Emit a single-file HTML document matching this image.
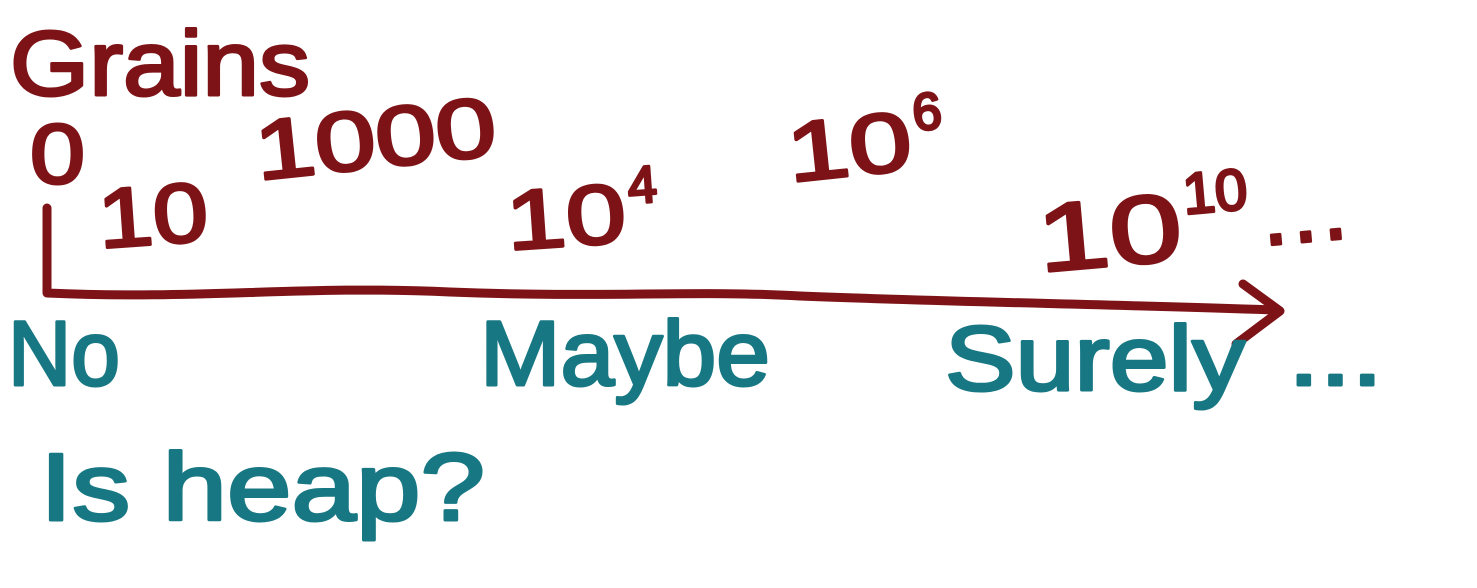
<!DOCTYPE html>
<html>
<head>
<meta charset="utf-8">
<style>
  html,body{margin:0;padding:0;background:#fff;}
  svg{display:block;}
  .red{fill:#7d1317;stroke:#7d1317;stroke-width:3;stroke-linejoin:round;font-family:"Liberation Sans",sans-serif;}
  .teal{fill:#177783;stroke:#177783;stroke-width:3;stroke-linejoin:round;font-family:"Liberation Sans",sans-serif;}
</style>
</head>
<body>
<svg width="1477" height="588" viewBox="0 0 1477 588">
  <text class="red" x="10" y="95" font-size="92" textLength="300" lengthAdjust="spacingAndGlyphs">Grains</text>

  <g id="ticks"></g>

  <path d="M47 208 L47 293 C200 300 300 285 450 292 C600 298 700 290 800 296 C950 302 1100 304 1275 310"
        fill="none" stroke="#7d1317" stroke-width="9" stroke-linecap="round" stroke-linejoin="round"
       />
  <path d="M1243 284 L1280 311 L1236 344" fill="none" stroke="#7d1317" stroke-width="9"
        stroke-linecap="round" stroke-linejoin="round"/>

  <g id="answers"></g>

  <text class="teal" x="40" y="520" font-size="96" textLength="445" lengthAdjust="spacingAndGlyphs">Is heap?</text>
</svg>
<script>
const tickLabels = ["0", "10", "1000", "10", "10", "10"];
const tickExps = ["", "", "", "4", "6", "10"];
const tickX = [30, 100, 258, 508, 790, 1040];
const tickY = [183, 248, 180, 250, 182, 272];
const tickRot = [0, -4, -6, -4, -6, -5];
const tickLen = [55, 110, 242, 120, 125, 145];
const answerLabels = ["No", "Maybe", "Surely", "..."];
const answerX = [8, 480, 945, 1288];
const answerY = [385, 385, 390, 385];
const answerLen = [112, 290, 300, 95];

const NS = "http://www.w3.org/2000/svg";
const tg = document.getElementById('ticks');
tickLabels.forEach((t, i) => {
  const el = document.createElementNS(NS, 'text');
  el.setAttribute('class', 'red');
  el.setAttribute('x', tickX[i]);
  el.setAttribute('y', tickY[i]);
  el.setAttribute('font-size', i === 5 ? 96 : 84);
  el.setAttribute('transform', `rotate(${tickRot[i]} ${tickX[i]} ${tickY[i]})`);
  
  
  const b = document.createElementNS(NS, 'tspan');
  b.setAttribute('textLength', tickLen[i]);
  b.setAttribute('lengthAdjust', 'spacingAndGlyphs');
  b.textContent = t;
  el.appendChild(b);
  if (tickExps[i]) {
    const s = document.createElementNS(NS, 'tspan');
    s.setAttribute('dy', i === 5 ? -45 : -38);
    s.setAttribute('dx', 4);
    s.setAttribute('font-size', i === 5 ? 58 : 52);
    s.textContent = tickExps[i];
    el.appendChild(s);
    if (i === 5) {
      const d = document.createElementNS(NS, 'tspan');
      d.setAttribute('dy', 38);
      d.setAttribute('dx', 12);
      d.setAttribute('font-size', 90);
      d.setAttribute('textLength', 85);
      d.setAttribute('lengthAdjust', 'spacing');
      d.textContent = "...";
      el.appendChild(d);
    }
  }
  tg.appendChild(el);
});
const ag = document.getElementById('answers');
answerLabels.forEach((t, i) => {
  const el = document.createElementNS(NS, 'text');
  el.setAttribute('class', 'teal');
  el.setAttribute('x', answerX[i]);
  el.setAttribute('y', answerY[i]);
  el.setAttribute('font-size', 92);
  el.setAttribute('textLength', answerLen[i]);
  el.setAttribute('lengthAdjust', 'spacingAndGlyphs');
  
  
  el.textContent = t;
  ag.appendChild(el);
});
</script>
</body>
</html>
